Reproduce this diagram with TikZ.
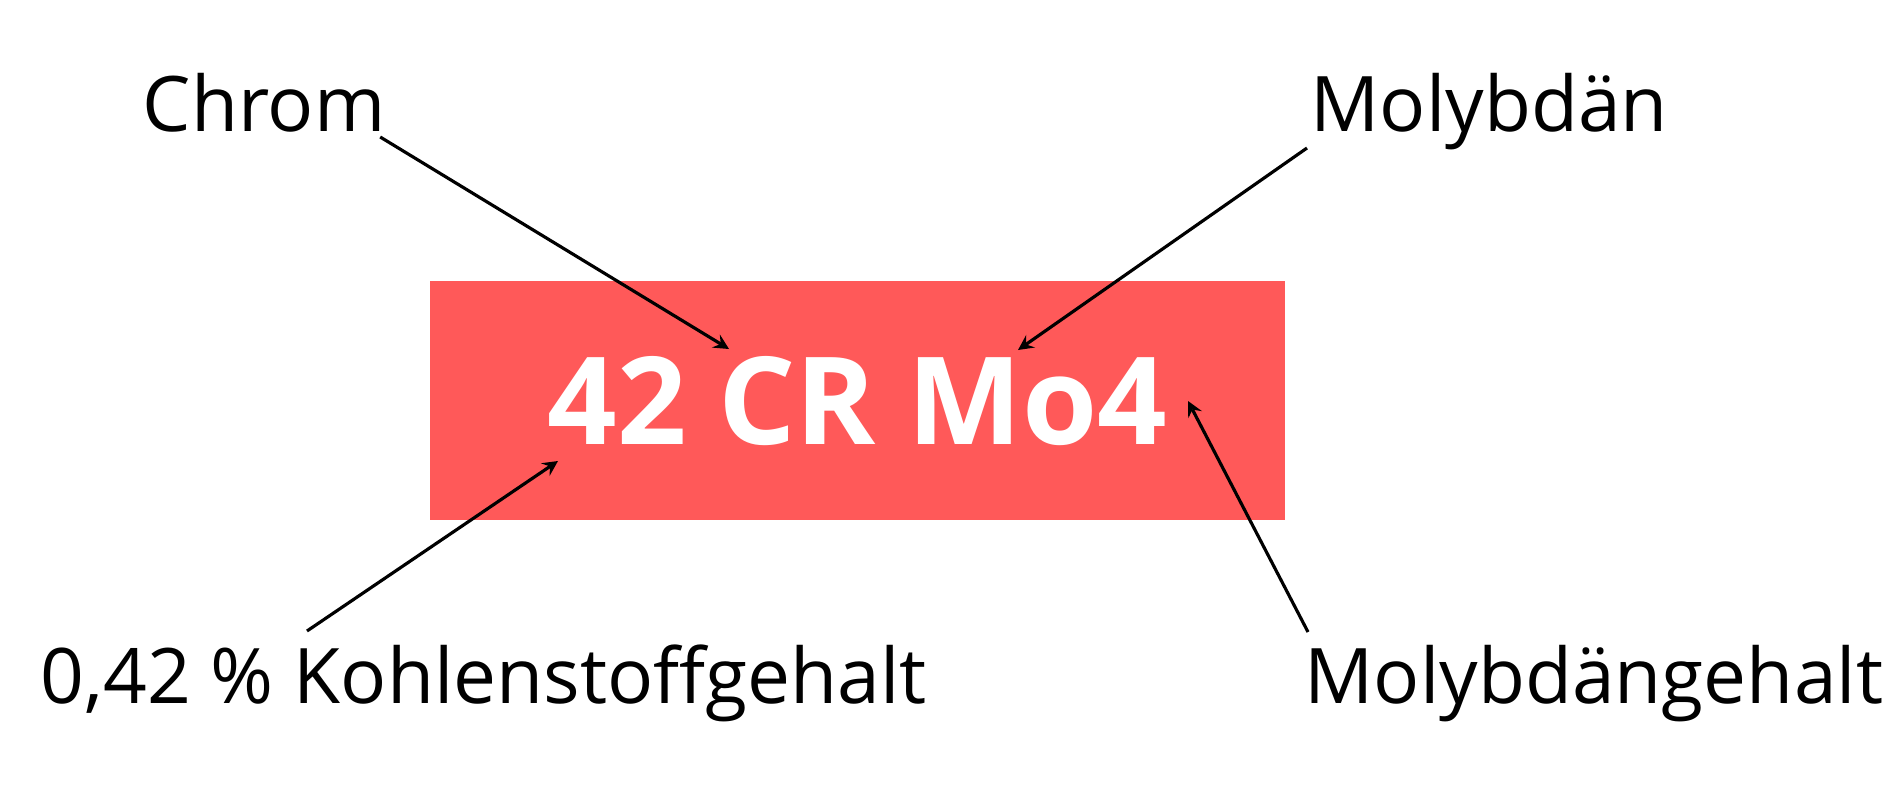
\documentclass[tikz,border=0pt]{standalone}
\usepackage{fontspec}
\setmainfont{Open Sans}
\usepackage{tikz}
\usetikzlibrary{arrows, positioning}
\definecolor{signalred}{RGB}{255,89,89}
\tikzstyle{plate} = [rectangle, fill=signalred, inner sep=0pt, minimum width=8.55cm, minimum height=2.39cm]
\tikzstyle{tag} = [font=\fontsize{21.8}{26}\selectfont, inner sep=0pt, anchor=base west]
\tikzstyle{grade} = [font=\bfseries\fontsize{34.6}{40}\selectfont, text=white, inner sep=0pt, anchor=base west]
\tikzstyle{arrow} = [line width=0.9pt,->,>=stealth]

\begin{document}
\begin{tikzpicture}[x=0.01cm, y=-0.01cm]
\useasboundingbox (0,0) rectangle (1900,800);

% Steel grade plate
\node (plate) [plate, anchor=north west] at (429,280) {};
\node (steel) [grade] at (547,444) {42 CR Mo4};

% Callouts
\node (chrom) [tag] at (142,131) {Chrom};
\node (molyb) [tag] at (1310,131) {Molybdän};
\node (carbon) [tag] at (40,703) {0,42 \% Kohlenstoffgehalt};
\node (molybgehalt) [tag] at (1304,703) {Molybdängehalt};

% Arrow tips on the plate
\coordinate (crtip) at (729,349);
\coordinate (motip) at (1018,350);
\coordinate (ctip) at (558,461);
\coordinate (mofourtip) at (1188,401);

% Arrows
\draw [arrow] ([shift={(-6,6)}]chrom.base east) -- (crtip);
\draw [arrow] ([shift={(-3,17)}]molyb.base west) -- (motip);
\draw [arrow] ([shift={(267,-72)}]carbon.base west) -- (ctip);
\draw [arrow] ([shift={(4,-71)}]molybgehalt.base west) -- (mofourtip);

\end{tikzpicture}
\end{document}
